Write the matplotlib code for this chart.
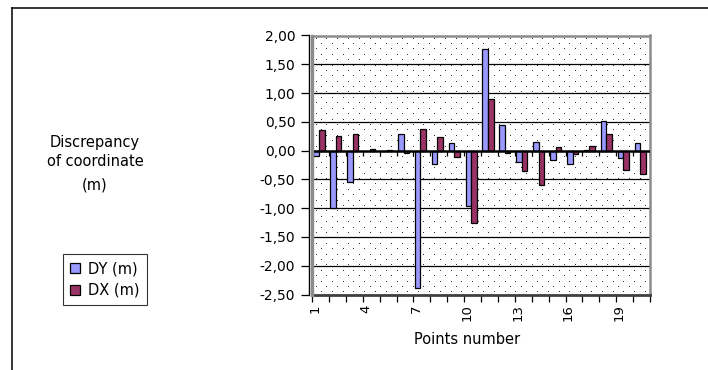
import numpy as np
import matplotlib
matplotlib.use("Agg")
import matplotlib.pyplot as plt
from matplotlib.lines import Line2D

# Point numbers and coordinate discrepancies (m)
points = np.arange(1, 21)
dy = [-0.10, -1.00, -0.55, 0.00, 0.00, 0.28, -2.39, -0.24, 0.13, -0.97,
      1.77, 0.44, -0.19, 0.15, -0.16, -0.24, 0.01, 0.52, -0.13, 0.13]
dx = [0.36, 0.25, 0.28, 0.02, 0.01, -0.05, 0.38, 0.23, -0.11, -1.26,
      0.89, -0.05, -0.35, -0.60, 0.06, -0.06, 0.08, 0.28, -0.34, -0.41]
labeled_points = [1, 4, 7, 10, 13, 16, 19]
y_ticks = [2.0, 1.5, 1.0, 0.5, 0.0, -0.5, -1.0, -1.5, -2.0, -2.5]
series_names = ["DY (m)", "DX (m)"]

plt.rcParams["font.family"] = ["DejaVu Sans"]

W, H, DPI = 708, 370, 100
fig = plt.figure(figsize=(W / DPI, H / DPI), dpi=DPI)
fig.patch.set_facecolor("white")

ax_l, ax_r, ax_t, ax_b = 312, 650, 35.5, 294.5
ax = fig.add_axes([ax_l / W, 1 - ax_b / H, (ax_r - ax_l) / W, (ax_b - ax_t) / H])

x0, x1 = 0.5, len(points) + 0.5
y0, y1 = -2.5, 2.0

# dotted plot-area fill
pw, ph = int(ax_r - ax_l), int(ax_b - ax_t)
img = np.ones((ph, pw, 4))
r = 0
yy = 3.0
while yy < ph:
    off = 4.0 if r % 2 == 0 else 9.4
    xx = off
    while xx < pw:
        img[int(yy), int(xx), :3] = 0.2
        xx += 10.8
    yy += 5.4
    r += 1
ax.imshow(img, extent=(x0, x1, y0, y1), aspect="auto",
          interpolation="nearest", zorder=0.5)

# horizontal gridlines
for v in y_ticks:
    if y0 < v < y1 and v != 0:
        ax.axhline(v, color="black", lw=0.9, zorder=1)

bw = 0.33
b1 = ax.bar(points - 0.25, dy, width=bw, color="#9999FF",
            edgecolor="black", linewidth=0.9, zorder=3, label=series_names[0])
b2 = ax.bar(points + 0.08, dx, width=bw, color="#993366",
            edgecolor="black", linewidth=0.9, zorder=3, label=series_names[1])

# category axis crossing at zero, with its tick marks
boundaries = np.arange(x0, x1 + 0.01, 1.0)
ax.axhline(0, color="black", lw=1.8, zorder=4)
ax.vlines(boundaries, -0.085, 0, color="black", lw=0.9, zorder=4)

ax.set_xlim(x0, x1)
ax.set_ylim(y0, y1)

# x ticks at category boundaries, labels near left edge of labelled categories
ax.set_xticks(boundaries)
ax.set_xticklabels([])
ax.set_xticks([p - 0.33 for p in labeled_points], minor=True)
ax.set_xticklabels([str(p) for p in labeled_points], minor=True,
                   rotation=90, va="top", ha="center", fontsize=9.5)
ax.tick_params(axis="x", which="major", direction="out", length=5,
               width=0.9, color="black")
ax.tick_params(axis="x", which="minor", length=0, pad=7)

ax.set_yticks(y_ticks)
ax.set_yticklabels([f"{v:.2f}".replace(".", ",") for v in y_ticks], fontsize=10)
ax.tick_params(axis="y", direction="out", length=6, width=0.9,
               color="black", pad=4)

for s in ("top", "right"):
    ax.spines[s].set_color("#8c8c8c")
    ax.spines[s].set_linewidth(1.8)
ax.spines["bottom"].set_color("#404040")
ax.spines["bottom"].set_linewidth(2.0)
ax.spines["left"].set_color("black")
ax.spines["left"].set_linewidth(1.0)
ax.spines["left"].set_position(("outward", 2))
ax.plot([0, 0], [0, 1], transform=ax.transAxes, color="#8c8c8c",
        lw=2.4, clip_on=False, zorder=5)

# axis titles
fig.text(467 / W, 1 - 339 / H, "Points number", ha="center", va="center",
         fontsize=10.5)
for txt, base in (("Discrepancy", 146.5), ("of coordinate", 166.5), ("(m)", 189.5)):
    fig.text(95 / W, 1 - base / H, txt, ha="center", va="baseline",
             fontsize=10.5)

leg = fig.legend(handles=[b1, b2], labels=series_names, loc="upper left",
                 bbox_to_anchor=(63 / W, 1 - 254 / H), frameon=True,
                 fancybox=False, edgecolor="black", fontsize=10.5,
                 handlelength=0.65, handleheight=0.65, handletextpad=0.55,
                 borderpad=0.5, labelspacing=0.45, borderaxespad=0)
leg.get_frame().set_linewidth(0.8)

# chart area frame (top and left edges)
fig.add_artist(Line2D([12 / W, 12 / W], [0, 1 - 8 / H],
                      transform=fig.transFigure, color="black", lw=1.1))
fig.add_artist(Line2D([12 / W, 1], [1 - 8 / H, 1 - 8 / H],
                      transform=fig.transFigure, color="black", lw=1.1))

fig.savefig("out.png", dpi=DPI, facecolor="white")
